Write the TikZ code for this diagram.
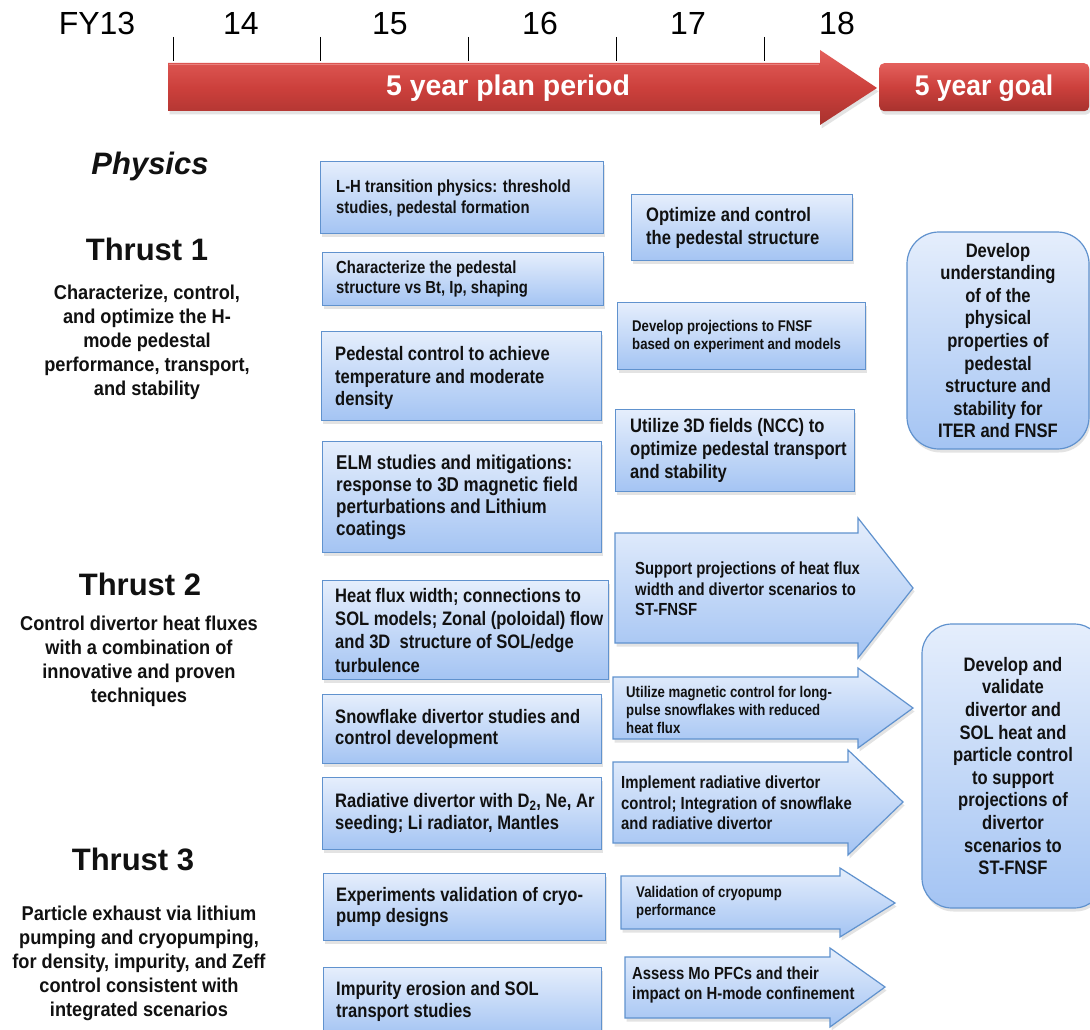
\documentclass[tikz,border=0pt]{standalone}
\usepackage{fontspec}
\setmainfont{Liberation Sans}
\newfontfamily\nar[FakeStretch=0.85]{Liberation Sans}
\newfontfamily\narb[FakeStretch=0.91]{Liberation Sans}
\newfontfamily\narc[FakeStretch=0.93]{Liberation Sans}
\usetikzlibrary{shadows}
\definecolor{btop}{RGB}{229,238,252}
\definecolor{bbot}{RGB}{164,196,243}
\definecolor{bbord}{RGB}{96,146,206}
\definecolor{rtop}{RGB}{228,96,92}
\definecolor{rmid}{RGB}{204,64,60}
\definecolor{rbot}{RGB}{168,50,46}
\definecolor{txt}{RGB}{17,17,17}
\begin{document}
\begin{tikzpicture}[x=1pt,y=-1pt,
  shad/.style={drop shadow={opacity=0.22,shadow xshift=1.5pt,shadow yshift=-3.5pt}},
  bluebox/.style={draw=bbord,line width=1.2pt,top color=btop,bottom color=bbot,anchor=north west,inner sep=0pt,shad},
  bluearrow/.style={draw=bbord,line width=1.2pt,top color=btop,bottom color=bbot,line join=miter,shad},
  redfill/.style={top color=rtop,bottom color=rbot,middle color=rmid,shad},
  btxt/.style={anchor=west,align=left,inner sep=0pt,text=txt},
  fA/.style={font=\nar\bfseries\fontsize{17.5}{20.5}\selectfont},
  fB/.style={font=\nar\bfseries\fontsize{19.5}{22.5}\selectfont},
  fC/.style={font=\nar\bfseries\fontsize{15.5}{18}\selectfont},
  title/.style={anchor=base,inner sep=0pt,text=txt,font=\bfseries\fontsize{31}{34}\selectfont},
  desc/.style={anchor=north,align=center,inner sep=0pt,text=txt,font=\narb\bfseries\fontsize{20}{24}\selectfont},
  year/.style={anchor=base,inner sep=0pt,text=black,font=\fontsize{32}{36}\selectfont},
  goalbox/.style={draw=bbord,line width=1.2pt,top color=btop,bottom color=bbot,rounded corners=32pt,align=center,inner sep=0pt,text=txt,font=\nar\bfseries\fontsize{19.5}{22.6}\selectfont,shad}
]
\clip (0,0) rectangle (1090,1030);
\fill[white] (0,0) rectangle (1090,1030);

% ---------- header ----------
\node[year] (fy13) at (97,35) {FY13};
\node[year] (y14) at (241,35) {14};
\node[year] (y15) at (390,35) {15};
\node[year] (y16) at (540,35) {16};
\node[year] (y17) at (688,35) {17};
\node[year] (y18) at (837,35) {18};
\foreach \tx in {173,320,468,616,764} \draw[line width=1pt] (\tx,37) -- (\tx,61);

\path[redfill] (168,63) -- (820,63) -- (820,50) -- (877,88) -- (820,125) -- (820,111) -- (168,111) -- cycle;
\draw[rtop!80!white,line width=1.5pt] (169,64.5) -- (819,64.5);
\node[text=white,inner sep=0pt,font=\bfseries\fontsize{28.5}{30}\selectfont] (plan) at (508,88) {5 year plan period};
\node[redfill,rounded corners=5pt,minimum width=210pt,minimum height=48pt,anchor=north west,inner sep=0pt] (goal) at (879,63) {};
\node[text=white,inner sep=0pt,font=\narc\bfseries\fontsize{28.5}{30}\selectfont] (goaltxt) at (984,88) {5 year goal};

% ---------- left labels ----------
\node[title,font=\bfseries\itshape\fontsize{31}{34}\selectfont] (phys) at (150,175) {Physics};
\node[title] (t1) at (147,260) {Thrust 1};
\node[desc] (t1d) at (147,284.5) {Characterize, control,\\and optimize the H-\\mode pedestal\\performance, transport,\\and stability};
\node[title] (t2) at (140,595) {Thrust 2};
\node[desc] (t2d) at (139,615.5) {Control divertor heat fluxes\\with a combination of\\innovative and proven\\techniques};
\node[title] (t3) at (133,870) {Thrust 3};
\node[desc] (t3d) at (139,905.5) {Particle exhaust via lithium\\pumping and cryopumping,\\for density, impurity, and Zeff\\control consistent with\\integrated scenarios};

% ---------- left column boxes ----------
\node[bluebox,minimum width=283pt,minimum height=72pt] (b1) at (320,161) {};
\node[btxt,fA] (b1t) at ([xshift=16pt,yshift=-1pt]b1.west) {L-H transition physics: threshold\\studies, pedestal formation};
\node[bluebox,minimum width=281pt,minimum height=53pt] (b2) at (322,252) {};
\node[btxt,fA] (b2t) at ([xshift=14pt]b2.west) {Characterize the pedestal\\structure vs Bt, Ip, shaping};
\node[bluebox,minimum width=280pt,minimum height=89pt] (b3) at (321,331) {};
\node[btxt,fB] (b3t) at ([xshift=14pt,yshift=-2pt]b3.west) {Pedestal control to achieve\\temperature and moderate\\density};
\node[bluebox,minimum width=279pt,minimum height=111pt] (b4) at (322,441) {};
\node[btxt,fB,font=\nar\bfseries\fontsize{20}{22}\selectfont] (b4t) at ([xshift=14pt]b4.west) {ELM studies and mitigations:\\response to 3D magnetic field\\perturbations and Lithium\\coatings};
\node[bluebox,minimum width=286pt,minimum height=99pt] (b5) at (322,580) {};
\node[btxt,fB,font=\nar\bfseries\fontsize{19.5}{23.3}\selectfont] (b5t) at ([xshift=13pt]b5.west) {Heat flux width; connections to\\SOL models; Zonal (poloidal) flow\\and 3D\ \ structure of SOL/edge\\turbulence};
\node[bluebox,minimum width=279pt,minimum height=69pt] (b6) at (322,694) {};
\node[btxt,fB,font=\nar\bfseries\fontsize{19.5}{21.5}\selectfont] (b6t) at ([xshift=13pt]b6.west) {Snowflake divertor studies and\\control development};
\node[bluebox,minimum width=279pt,minimum height=72pt] (b7) at (322,777) {};
\node[btxt,fB,font=\nar\bfseries\fontsize{19.5}{22}\selectfont] (b7t) at ([xshift=13pt]b7.west) {Radiative divertor with D\textsubscript{2}, Ne, Ar\\seeding; Li radiator, Mantles};
\node[bluebox,minimum width=282pt,minimum height=67pt] (b8) at (323,873) {};
\node[btxt,fB,font=\nar\bfseries\fontsize{19.5}{21.5}\selectfont] (b8t) at ([xshift=13pt]b8.west) {Experiments validation of cryo-\\pump designs};
\node[bluebox,minimum width=278pt,minimum height=68pt] (b9) at (323,967) {};
\node[btxt,fB,font=\nar\bfseries\fontsize{19.5}{22}\selectfont] (b9t) at ([xshift=13pt]b9.west) {Impurity erosion and SOL\\transport studies};

% ---------- middle column ----------
\node[bluebox,minimum width=221pt,minimum height=66pt] (m1) at (631,194) {};
\node[btxt,fB,font=\nar\bfseries\fontsize{19.5}{23}\selectfont] (m1t) at ([xshift=15pt]m1.west) {Optimize and control\\the pedestal structure};
\node[bluebox,minimum width=248pt,minimum height=67pt] (m2) at (617,302) {};
\node[btxt,fC] (m2t) at ([xshift=15pt]m2.west) {Develop projections to FNSF\\based on experiment and models};
\node[bluebox,minimum width=239pt,minimum height=82pt] (m3) at (615,409) {};
\node[btxt,fB,font=\nar\bfseries\fontsize{19.5}{23}\selectfont] (m3t) at ([xshift=15pt]m3.west) {Utilize 3D fields (NCC) to\\optimize pedestal transport\\and stability};

% ---------- arrows ----------
\path[bluearrow] (615,533) -- (858,533) -- (858,518) -- (913,588) -- (858,658) -- (858,643) -- (615,643) -- cycle;
\coordinate (a1w) at (615,589);
\node[btxt,fA] (a1t) at ([xshift=20pt]a1w) {Support projections of heat flux\\width and divertor scenarios to\\ST-FNSF};
\path[bluearrow] (613,677) -- (858,677) -- (858,668) -- (913,708) -- (858,748) -- (858,739) -- (613,739) -- cycle;
\coordinate (a2w) at (613,710);
\node[btxt,fC] (a2t) at ([xshift=13pt]a2w) {Utilize magnetic control for long-\\pulse snowflakes with reduced\\heat flux};
\path[bluearrow] (613,762) -- (848,762) -- (848,750) -- (903,802) -- (848,855) -- (848,843) -- (613,843) -- cycle;
\coordinate (a3w) at (613,803);
\node[btxt,fA] (a3t) at ([xshift=8pt]a3w) {Implement radiative divertor\\control; Integration of snowflake\\and radiative divertor};
\path[bluearrow] (621,876) -- (840,876) -- (840,868) -- (895,903) -- (840,937) -- (840,929) -- (621,929) -- cycle;
\coordinate (a4w) at (621,902);
\node[btxt,fC] (a4t) at ([xshift=15pt]a4w) {Validation of cryopump\\performance};
\path[bluearrow] (625,957) -- (830,957) -- (830,948) -- (885,987) -- (830,1027) -- (830,1018) -- (625,1018) -- cycle;
\coordinate (a5w) at (625,985);
\node[btxt,fA] (a5t) at ([xshift=7pt]a5w) {Assess Mo PFCs and their\\impact on H-mode confinement};

% ---------- goals ----------
\node[goalbox,minimum width=182pt,minimum height=217pt] (g1) at (998,340.5) {Develop\\understanding\\of of the\\physical\\properties of\\pedestal\\structure and\\stability for\\ITER and FNSF};
\node[goalbox,rounded corners=30pt,minimum width=182pt,minimum height=284pt] (g2) at (1013,766) {Develop and\\validate\\divertor and\\SOL heat and\\particle control\\to support\\projections of\\divertor\\scenarios to\\ST-FNSF};
\end{tikzpicture}
\end{document}
